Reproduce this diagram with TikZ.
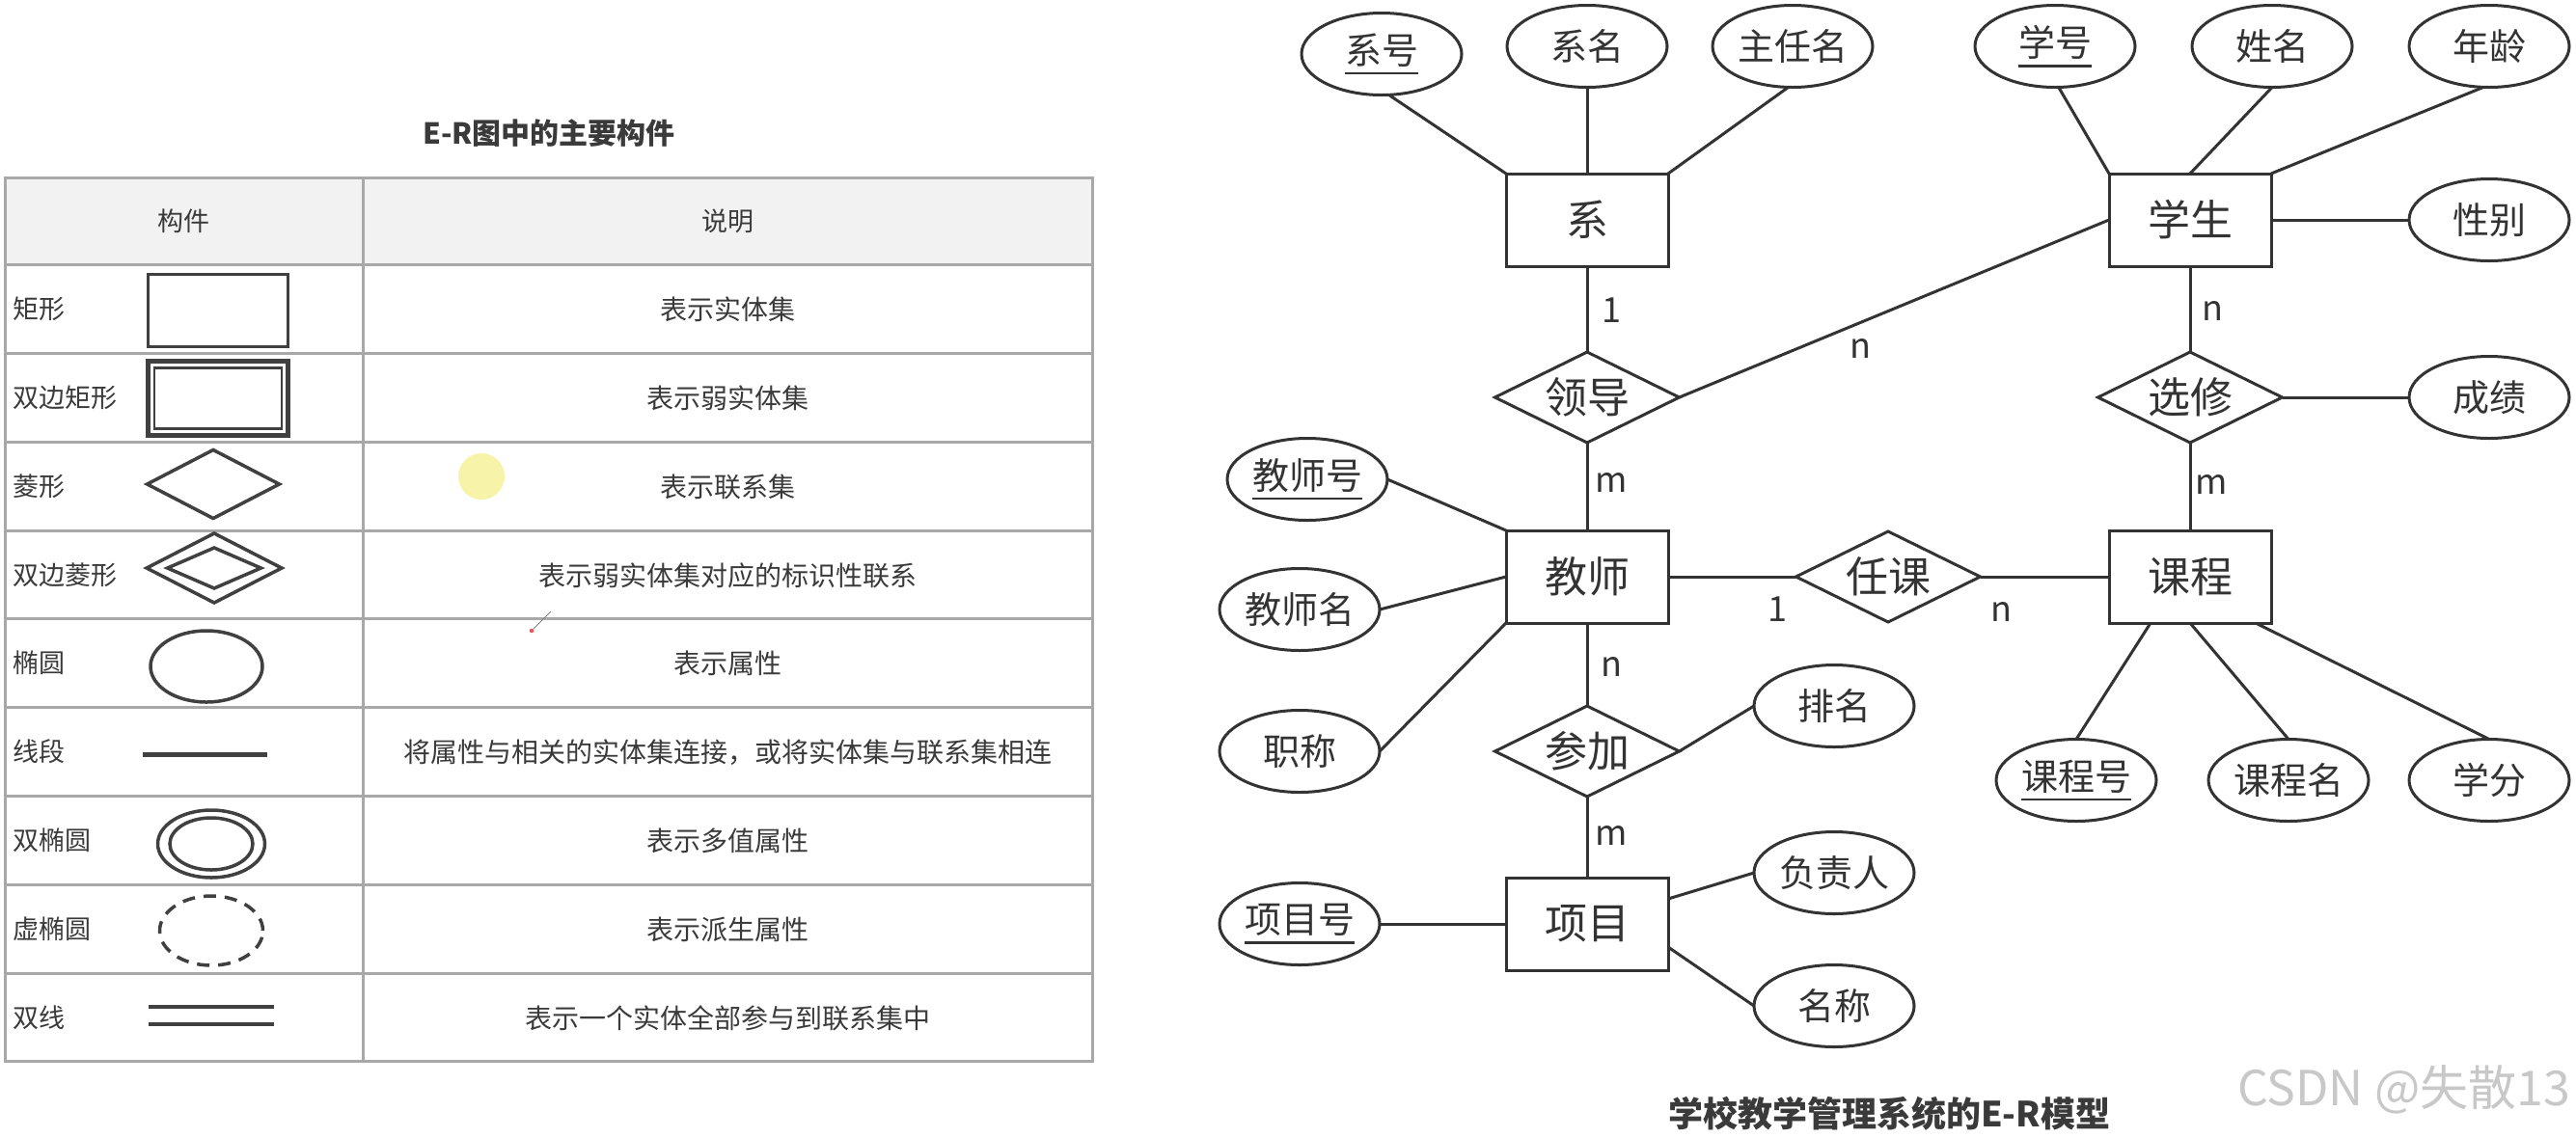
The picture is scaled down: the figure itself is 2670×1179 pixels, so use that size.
\documentclass[tikz,border=0pt]{standalone}
\usepackage{fontspec}
\setmainfont{Noto Sans CJK SC}
\usetikzlibrary{shapes.geometric}
\definecolor{ink}{HTML}{333333}
\definecolor{symink}{HTML}{404040}
\definecolor{tline}{HTML}{A8A8A8}
\definecolor{thead}{HTML}{F2F2F2}
\definecolor{ttext}{HTML}{3A3A3A}
\definecolor{wmark}{HTML}{C8C8C8}
\definecolor{hilite}{HTML}{F6F29A}
\newcommand{\ulx}[1]{\setbox0\hbox{#1}\rlap{\rule[-11pt]{\wd0}{2.5pt}}\box0}
\begin{document}
\begin{tikzpicture}[x=1pt,y=-1pt,
  every node/.style={inner sep=0pt,outer sep=0pt},
  ent/.style={draw=ink,line width=3pt,rectangle,minimum width=168pt,minimum height=96pt,text=ink,font=\fontsize{44}{48}\selectfont},
  rel/.style={draw=ink,line width=3pt,diamond,aspect=2.03,minimum width=191pt,minimum height=94pt,text=ink,font=\fontsize{44}{48}\selectfont},
  attr/.style={draw=ink,line width=3pt,ellipse,minimum width=166pt,minimum height=85pt,text=ink,font=\fontsize{38}{42}\selectfont},
  card/.style={text=ink,font=\fontsize{36}{40}\selectfont},
  lnk/.style={draw=ink,line width=3pt},
  tgrid/.style={draw=tline,line width=3pt},
  tlab/.style={anchor=west,text=ttext,font=\fontsize{27}{30}\selectfont},
  tdesc/.style={text=ttext,font=\fontsize{28}{32}\selectfont},
  sym/.style={draw=symink,line width=3.5pt}
]
\useasboundingbox (0,0) rectangle (2670,1179);
\fill[white] (0,0) rectangle (2670,1179);

% ---------- table ----------
\node[text=ttext,font=\bfseries\fontsize{30}{34}\selectfont] (ttl) at (569,138) {E-R图中的主要构件};
\fill[thead] (5,184) rectangle (1132,274);
\draw[tgrid] (5,184) rectangle (1132,1100);
\foreach \yy in {274,366,458,550,641,733,825,917,1009} \draw[tgrid] (5,\yy) -- (1132,\yy);
\draw[tgrid] (376,184) -- (376,1100);

\fill[hilite,opacity=0.85] (499,494) circle (24pt);
\draw[gray,line width=1pt] (571,634) -- (553,652);
\fill[red!70] (551,654) circle (2.2pt);

\node[tdesc,font=\fontsize{27}{30}\selectfont] (h1) at (190,229) {构件};
\node[tdesc,font=\fontsize{27}{30}\selectfont] (h2) at (754,229) {说明};

\node[tlab] (l1) at (13,320) {矩形};
\node[tlab] (l2) at (13,412) {双边矩形};
\node[tlab] (l3) at (13,504) {菱形};
\node[tlab] (l4) at (13,596) {双边菱形};
\node[tlab] (l5) at (13,687) {椭圆};
\node[tlab] (l6) at (13,779) {线段};
\node[tlab] (l7) at (13,871) {双椭圆};
\node[tlab] (l8) at (13,963) {虚椭圆};
\node[tlab] (l9) at (13,1055) {双线};

\node[tdesc] (d1) at (754,321) {表示实体集};
\node[tdesc] (d2) at (754,413) {表示弱实体集};
\node[tdesc] (d3) at (754,505) {表示联系集};
\node[tdesc] (d4) at (754,597) {表示弱实体集对应的标识性联系};
\node[tdesc] (d5) at (754,688) {表示属性};
\node[tdesc] (d6) at (754,780) {将属性与相关的实体集连接，或将实体集与联系集相连};
\node[tdesc] (d7) at (754,872) {表示多值属性};
\node[tdesc] (d8) at (754,964) {表示派生属性};
\node[tdesc] (d9) at (754,1056) {表示一个实体全部参与到联系集中};

% symbols
\node[sym,rectangle,minimum width=145pt,minimum height=75pt] (s1) at (226,322) {};
\node[draw=symink,line width=4.5pt,rectangle,minimum width=145pt,minimum height=77pt] (s2) at (226,413) {};
\node[draw=symink,line width=2.5pt,rectangle,minimum width=132pt,minimum height=63pt] (s2i) at (226,413) {};
\node[sym,diamond,minimum width=137pt,minimum height=71pt] (s3) at (221,502) {};
\node[sym,diamond,minimum width=140pt,minimum height=72pt] (s4) at (222,589) {};
\node[sym,diamond,minimum width=97pt,minimum height=42pt] (s4i) at (222,589) {};
\node[sym,ellipse,minimum width=116pt,minimum height=74pt] (s5) at (214,691) {};
\coordinate (s6a) at (148,782);
\coordinate (s6b) at (277,782);
\draw[sym,line width=5pt] (s6a) -- (s6b);
\node[sym,ellipse,minimum width=111pt,minimum height=70pt] (s7) at (219,875) {};
\node[sym,ellipse,minimum width=86pt,minimum height=54pt] (s7i) at (219,875) {};
\node[sym,ellipse,dash pattern=on 13pt off 9pt,minimum width=107pt,minimum height=72pt] (s8) at (219,965) {};
\coordinate (s9a) at (154,1044);
\coordinate (s9b) at (284,1044);
\coordinate (s9c) at (154,1062);
\coordinate (s9d) at (284,1062);
\draw[sym,line width=4.5pt] (s9a) -- (s9b);
\draw[sym,line width=4.5pt] (s9c) -- (s9d);

% ---------- E-R diagram ----------
\node[ent] (xi) at (1645,228) {系};
\node[ent] (xs) at (2270,228) {学生};
\node[ent] (js) at (1645,598) {教师};
\node[ent] (kc) at (2270,598) {课程};
\node[ent] (xm) at (1645,958) {项目};

\node[rel] (ld) at (1645,412) {领导};
\node[rel] (xx) at (2270,412) {选修};
\node[rel] (rk) at (1957,598) {任课};
\node[rel] (cj) at (1645,779) {参加};

\node[attr] (a1) at (1432,56) {\ulx{系号}};
\node[attr] (a2) at (1645,48) {系名};
\node[attr] (a3) at (1858,48) {主任名};
\node[attr] (a4) at (2130,48) {\ulx{学号}};
\node[attr] (a5) at (2355,48) {姓名};
\node[attr] (a6) at (2580,48) {年龄};
\node[attr] (a7) at (2580,228) {性别};
\node[attr] (a8) at (2580,412) {成绩};
\node[attr] (a9) at (1355,497) {\ulx{教师号}};
\node[attr] (a10) at (1347,632) {教师名};
\node[attr] (a11) at (1347,779) {职称};
\node[attr] (a12) at (1901,732) {排名};
\node[attr] (a13) at (2152,809) {\ulx{课程号}};
\node[attr] (a14) at (2372,809) {课程名};
\node[attr] (a15) at (2580,809) {学分};
\node[attr] (a16) at (1347,958) {\ulx{项目号}};
\node[attr] (a17) at (1901,905) {负责人};
\node[attr] (a18) at (1901,1043) {名称};

\draw[lnk] (a1.-80) -- (xi.north west);
\draw[lnk] (a2) -- (xi);
\draw[lnk] (a3.-96) -- (xi.north east);
\draw[lnk] (a4.-85) -- (xs.north west);
\draw[lnk] (a5.south) -- (xs.north);
\draw[lnk] (a6.-98) -- (xs.north east);
\draw[lnk] (xs) -- (a7);
\draw[lnk] (xi) -- (ld);
\draw[lnk] (xs.west) -- (ld.east);
\draw[lnk] (xs) -- (xx);
\draw[lnk] (xx) -- (a8);
\draw[lnk] (ld) -- (js);
\draw[lnk] (xx) -- (kc);
\draw[lnk] (a9.east) -- (js.north west);
\draw[lnk] (a10.east) -- (js.west);
\draw[lnk] (a11.east) -- (js.south west);
\draw[lnk] (js) -- (rk);
\draw[lnk] (rk) -- (kc);
\draw[lnk] (js) -- (cj);
\draw[lnk] (cj.east) -- (a12.west);
\draw[lnk] ([xshift=-41pt]kc.south) -- (a13.north);
\draw[lnk] (kc.south) -- (a14.north);
\draw[lnk] ([xshift=68pt]kc.south) -- (a15.north);
\draw[lnk] (cj) -- (xm);
\draw[lnk] (a16) -- (xm);
\draw[lnk] ([yshift=26pt]xm.east) -- (a17.west);
\draw[lnk] ([yshift=-24pt]xm.east) -- (a18.west);

\node[card] (c1) at (1670,322) {1};
\node[card] (c2) at (1928,361) {n};
\node[card] (c3) at (2293,322) {n};
\node[card] (c4) at (1670,500) {m};
\node[card] (c5) at (2292,502) {m};
\node[card] (c6) at (1842,632) {1};
\node[card] (c7) at (2074,634) {n};
\node[card] (c8) at (1670,691) {n};
\node[card] (c9) at (1670,866) {m};

\node[text=ttext,font=\bfseries\fontsize{36}{40}\selectfont] (cap) at (1958,1155) {学校教学管理系统的E-R模型};
\node[anchor=east,text=wmark,font=\fontsize{50}{54}\selectfont] (wm) at (2664,1130) {CSDN @失散13};
\end{tikzpicture}
\end{document}
